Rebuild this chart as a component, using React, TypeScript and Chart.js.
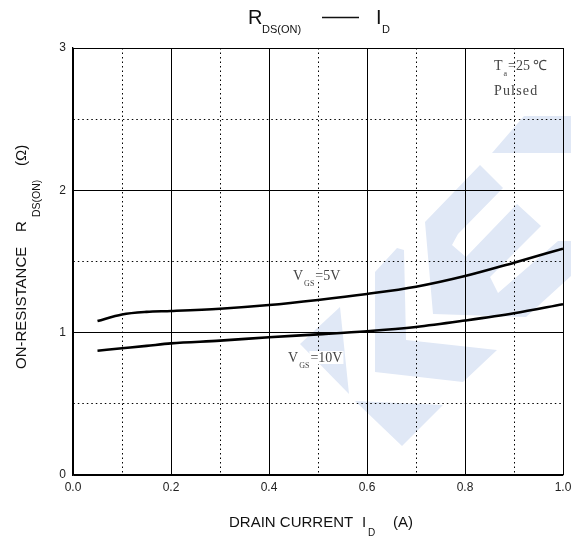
import React, { useEffect, useRef } from 'react';
import { Chart, registerables } from 'chart.js';

Chart.register(...registerables);

// ---- data ----
const drainCurrent = [0.05, 0.1, 0.15, 0.2, 0.3, 0.4, 0.5, 0.6, 0.7, 0.8, 0.9, 1.0];
const rdsVgs5 = [1.082, 1.128, 1.146, 1.152, 1.168, 1.194, 1.23, 1.272, 1.323, 1.398, 1.492, 1.59];
const rdsVgs10 = [0.873, 0.89, 0.907, 0.925, 0.944, 0.968, 0.988, 1.01, 1.04, 1.085, 1.136, 1.2];
const xTickLabels = ['0.0', '0.2', '0.4', '0.6', '0.8', '1.0'];
const yTickLabels = ['0', '1', '2', '3'];

// curve label anchors (data coordinates)
const labelVgs5 = { x: 0.449, y: 1.37, main: 'V', sub: 'GS', rest: '=5V' };
const labelVgs10 = { x: 0.439, y: 0.794, main: 'V', sub: 'GS', rest: '=10V' };
const noteTa = { x: 0.859, y: 2.845, main: 'T', sub: 'a', rest: '=25 \u2103' };
const notePulsed = { x: 0.859, y: 2.67, text: 'Pulsed' };

// faint logo watermark (canvas pixels)
const watermark: number[][][] = [
  [[492, 153], [524, 116], [571, 116], [571, 153]],
  [[480, 165], [503, 188], [458, 234], [452, 245], [466, 257], [517, 204], [541, 226], [490, 277], [498, 293], [558, 241], [571, 241], [571, 276], [526, 317], [433, 314], [425, 222]],
  [[397, 248], [404, 250], [406, 340], [497, 350], [463, 382], [375, 372], [375, 272]],
  [[340, 307], [300, 344], [349, 394]],
  [[355, 401], [443, 405], [402, 446]],
];

const isMinor = (v: number, step: number) => Math.round(v / step) % 2 === 1;

const decorPlugin = {
  id: 'decor',
  beforeDraw(chart: any) {
    const ctx = chart.ctx;
    ctx.save();
    ctx.fillStyle = 'rgb(224,232,246)';
    for (const poly of watermark) {
      ctx.beginPath();
      poly.forEach(([px, py], i) => (i === 0 ? ctx.moveTo(px, py) : ctx.lineTo(px, py)));
      ctx.closePath();
      ctx.fill();
    }
    ctx.restore();
  },
  afterDraw(chart: any) {
    const ctx = chart.ctx;
    const xs = chart.scales.x;
    const ys = chart.scales.y;
    const sans = '"Liberation Sans", Arial, sans-serif';
    const serif = '"Liberation Serif", "Times New Roman", serif';
    ctx.save();
    ctx.fillStyle = '#111';
    ctx.textBaseline = 'alphabetic';
    ctx.textAlign = 'left';

    // title
    ctx.font = `20px ${sans}`;
    ctx.fillText('R', 248, 24);
    ctx.font = `11px ${sans}`;
    ctx.fillText('DS(ON)', 262, 33);
    ctx.strokeStyle = '#111';
    ctx.lineWidth = 1.3;
    ctx.beginPath();
    ctx.moveTo(322, 17.5);
    ctx.lineTo(359, 17.5);
    ctx.stroke();
    ctx.font = `20px ${sans}`;
    ctx.fillText('I', 376, 24);
    ctx.font = `11px ${sans}`;
    ctx.fillText('D', 382, 33);

    // x axis title
    ctx.font = `15px ${sans}`;
    ctx.fillText('DRAIN CURRENT', 229, 527);
    ctx.fillText('I', 362, 527);
    ctx.fillText('(A)', 393, 527);
    ctx.font = `10px ${sans}`;
    ctx.fillText('D', 368, 536);

    // y axis title (rotated)
    ctx.save();
    ctx.translate(26, 369);
    ctx.rotate(-Math.PI / 2);
    ctx.font = `15px ${sans}`;
    ctx.fillText('ON-RESISTANCE', 0, 0);
    ctx.fillText('R', 137, 0);
    ctx.fillText('(\u03A9)', 203, 0);
    ctx.font = `10.5px ${sans}`;
    ctx.fillText('DS(ON)', 152, 14);
    ctx.restore();

    // curve labels
    const drawSubLabel = (l: any, whiteBg: boolean) => {
      const px = xs.getPixelForValue(l.x);
      const py = ys.getPixelForValue(l.y);
      ctx.font = `14px ${serif}`;
      const wMain = ctx.measureText(l.main).width;
      ctx.font = `8px ${serif}`;
      const wSub = ctx.measureText(l.sub).width;
      ctx.font = `14px ${serif}`;
      const wRest = ctx.measureText(l.rest).width;
      const restX = px + wMain + wSub + 2;
      if (whiteBg) {
        ctx.fillStyle = '#fff';
        ctx.fillRect(restX - 1, py - 11, wRest + 2, 13);
      }
      ctx.fillStyle = '#444';
      ctx.fillText(l.main, px, py);
      ctx.fillText(l.rest, restX, py);
      ctx.font = `8px ${serif}`;
      ctx.fillText(l.sub, px + wMain + 1, py + 6);
    };
    drawSubLabel(labelVgs5, true);
    drawSubLabel(labelVgs10, true);
    drawSubLabel(noteTa, false);
    ctx.font = `14px ${serif}`;
    ctx.fillStyle = '#444';
    (ctx as any).letterSpacing = '1.2px';
    ctx.fillText(notePulsed.text, xs.getPixelForValue(notePulsed.x), ys.getPixelForValue(notePulsed.y));
    (ctx as any).letterSpacing = '0px';
    ctx.restore();
  },
};

export default function App() {
  const ref = useRef<HTMLCanvasElement>(null);
  useEffect(() => {
    const chart = new Chart(ref.current!, {
      type: 'line',
      data: {
        datasets: [
          {
            label: 'VGS=5V',
            data: drainCurrent.map((x, i) => ({ x, y: rdsVgs5[i] })),
            borderColor: '#000',
            borderWidth: 2.6,
            pointRadius: 0,
            cubicInterpolationMode: 'monotone',
          },
          {
            label: 'VGS=10V',
            data: drainCurrent.map((x, i) => ({ x, y: rdsVgs10[i] })),
            borderColor: '#000',
            borderWidth: 2.6,
            pointRadius: 0,
            cubicInterpolationMode: 'monotone',
          },
        ],
      },
      options: {
        animation: false,
        responsive: true,
        maintainAspectRatio: false,
        layout: { padding: { top: 48, right: 8, left: 0, bottom: 0 } },
        plugins: { legend: { display: false }, tooltip: { enabled: false }, title: { display: false } },
        scales: {
          x: {
            type: 'linear',
            min: 0,
            max: 1,
            afterFit: (s: any) => {
              s.height = 62;
              s.paddingLeft = 0;
              s.paddingRight = 0;
            },
            ticks: {
              stepSize: 0.1,
              autoSkip: false,
              maxRotation: 0,
              padding: 5,
              color: '#222',
              font: { family: '"Liberation Sans", Arial, sans-serif', size: 12 },
              callback: (v: any) => {
                const k = Math.round(Number(v) * 10);
                return k % 2 === 0 ? xTickLabels[k / 2] : '';
              },
            },
            grid: { color: '#000', lineWidth: 1, drawTicks: false },
            border: {
              display: true,
              color: '#000',
              width: 1.3,
              dash: (c: any) => (c.type === 'tick' && c.tick && isMinor(c.tick.value, 0.1) ? [1.5, 3] : []),
            },
          },
          y: {
            type: 'linear',
            min: 0,
            max: 3,
            afterFit: (s: any) => {
              s.width = 73;
            },
            ticks: {
              stepSize: 0.5,
              autoSkip: false,
              padding: 7,
              color: '#222',
              font: { family: '"Liberation Sans", Arial, sans-serif', size: 12 },
              callback: (v: any) => {
                const k = Math.round(Number(v) * 2);
                return k % 2 === 0 ? yTickLabels[k / 2] : '';
              },
            },
            grid: { color: '#000', lineWidth: 1, drawTicks: false },
            border: {
              display: true,
              color: '#000',
              width: 1.3,
              dash: (c: any) => (c.type === 'tick' && c.tick && isMinor(c.tick.value, 0.5) ? [1.5, 3] : []),
            },
          },
        },
      },
      plugins: [decorPlugin],
    } as any);
    return () => chart.destroy();
  }, []);
  return (
    <div style={{ position: 'absolute', left: 0, top: 0, width: 571, height: 537, background: '#fff' }}>
      <canvas ref={ref} />
    </div>
  );
}
